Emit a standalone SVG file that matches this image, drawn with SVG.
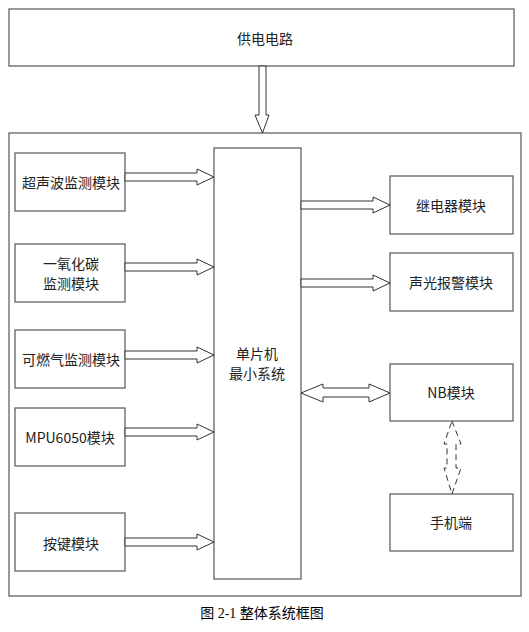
<svg xmlns="http://www.w3.org/2000/svg" width="529" height="632" viewBox="0 0 529 632">
<style>
.box{fill:#fff;stroke:#555;stroke-width:1.2}
.ar{fill:#fff;stroke:#333;stroke-width:1}
.da{fill:none;stroke:#333;stroke-width:1;stroke-dasharray:6,4}
text{font-family:"Noto Sans CJK SC","Liberation Sans",sans-serif;font-size:14px;fill:#222;text-anchor:middle;dominant-baseline:central}
.cap{font-family:"Liberation Serif","Noto Sans CJK SC",serif;font-size:14px;fill:#000}
</style>
<rect width="529" height="632" fill="#fff"/>
<g id="power"><rect class="box" x="9" y="9" width="505" height="57"/><text x="265" y="38">供电电路</text></g>
<g id="container"><rect class="box" x="9" y="133" width="512" height="463"/></g>
<g id="ultrasonic"><rect class="box" x="15" y="153" width="110" height="58"/><text x="71" y="182">超声波监测模块</text></g>
<g id="co"><rect class="box" x="15" y="244" width="110" height="58"/><text x="71" y="263">一氧化碳</text><text x="71" y="283">监测模块</text></g>
<g id="gas"><rect class="box" x="15" y="330" width="110" height="58"/><text x="71" y="359">可燃气监测模块</text></g>
<g id="mpu"><rect class="box" x="15" y="408" width="110" height="58"/><text x="70" y="437">MPU6050模块</text></g>
<g id="key"><rect class="box" x="15" y="513" width="110" height="58"/><text x="71" y="543">按键模块</text></g>
<g id="mcu"><rect class="box" x="214" y="148" width="87" height="431"/><text x="257" y="353">单片机</text><text x="257" y="373">最小系统</text></g>
<g id="relay"><rect class="box" x="390" y="176" width="123" height="58"/><text x="451" y="205">继电器模块</text></g>
<g id="alarm"><rect class="box" x="390" y="253" width="123" height="58"/><text x="451" y="282">声光报警模块</text></g>
<g id="nb"><rect class="box" x="390" y="364" width="123" height="57"/><text x="451" y="392">NB模块</text></g>
<g id="phone"><rect class="box" x="390" y="494" width="123" height="57"/><text x="451" y="522">手机端</text></g>
<g id="connectors">
<polygon class="ar" points="259,66 266,66 266,115 269,115 262.5,133 255,115 259,115"/>
<polygon class="ar" points="125,173 197,173 197,169 214,177 197,185 197,181 125,181"/>
<polygon class="ar" points="125,263 197,263 197,259 214,267 197,275 197,271 125,271"/>
<polygon class="ar" points="125,351 197,351 197,347 214,355 197,363 197,359 125,359"/>
<polygon class="ar" points="125,428 197,428 197,424 214,432 197,440 197,436 125,436"/>
<polygon class="ar" points="125,538 197,538 197,534 214,542 197,550 197,546 125,546"/>
<polygon class="ar" points="301,201 373,201 373,197 390,205 373,213 373,209 301,209"/>
<polygon class="ar" points="301,279 373,279 373,275 390,283 373,291 373,287 301,287"/>
<polygon class="ar" points="301,393 323,384 323,388 369,388 369,384 390,393 369,402 369,397 323,397 323,402"/>
<polygon class="da" points="452,421 461,444 456,444 456,468 461,468 452,494 444,468 447,468 447,444 444,444"/>
</g>
<text class="cap" x="262" y="613">图 2-1 整体系统框图</text>
</svg>
